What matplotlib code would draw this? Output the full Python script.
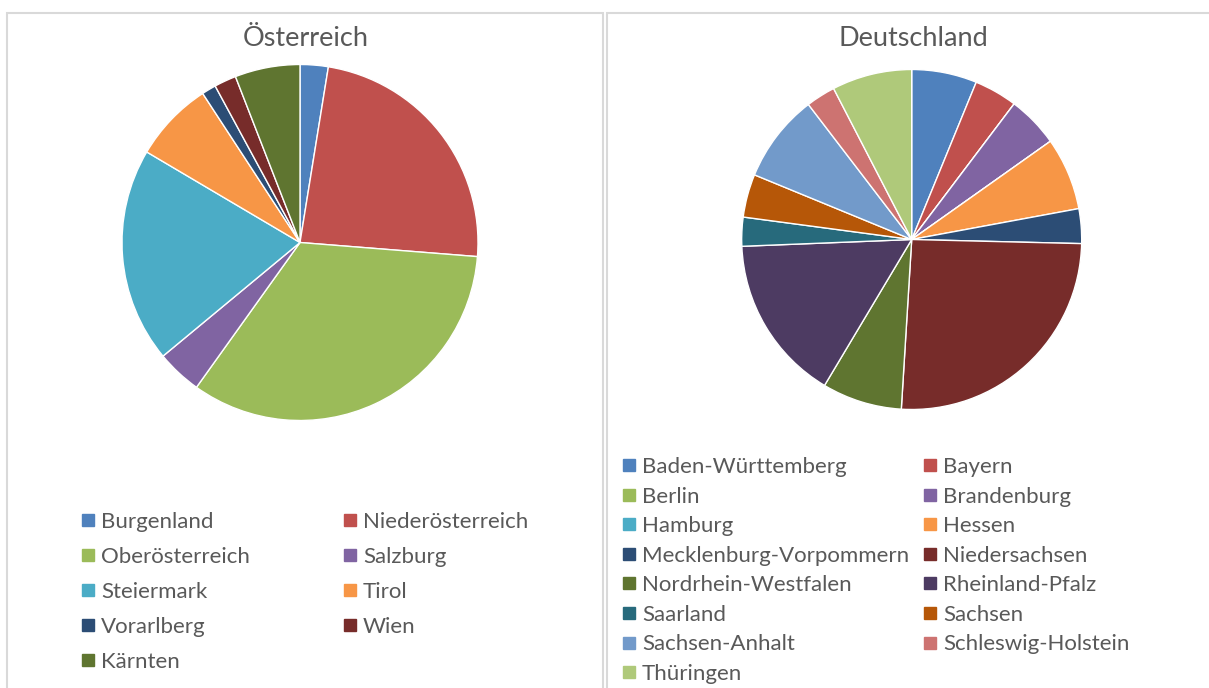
import matplotlib
matplotlib.use("Agg")
import matplotlib.pyplot as plt
from matplotlib.patches import Rectangle
from matplotlib.lines import Line2D

plt.rcParams['font.family'] = ['Lato', 'DejaVu Sans']

# ---- data ----
at_labels = ["Burgenland", "Niederösterreich", "Oberösterreich", "Salzburg",
             "Steiermark", "Tirol", "Vorarlberg", "Wien", "Kärnten"]
at_values = [2.55, 23.7, 33.6, 4.1, 19.5, 7.3, 1.3, 2.0, 5.9]
at_colors = ["#4F81BD", "#C0504D", "#9BBB59", "#8064A2", "#4BACC6",
             "#F79646", "#2C4D75", "#772C2A", "#5F7530"]

de_labels = ["Baden-Württemberg", "Bayern", "Berlin", "Brandenburg", "Hamburg",
             "Hessen", "Mecklenburg-Vorpommern", "Niedersachsen",
             "Nordrhein-Westfalen", "Rheinland-Pfalz", "Saarland", "Sachsen",
             "Sachsen-Anhalt", "Schleswig-Holstein", "Thüringen"]
de_values = [6.2, 4.1, 0.0, 4.9, 0.0, 6.9, 3.3, 25.6, 7.6, 15.8, 2.75, 4.1,
             8.4, 2.8, 7.6]
de_colors = ["#4F81BD", "#C0504D", "#9BBB59", "#8064A2", "#4BACC6", "#F79646",
             "#2C4D75", "#772C2A", "#5F7530", "#4D3B62", "#276A7C", "#B65708",
             "#729ACA", "#CD7371", "#AFC97A"]

W, H = 1209, 688
fig = plt.figure(figsize=(W / 100, H / 100), dpi=100)
fig.patch.set_facecolor("white")

TXT = "#595959"
GRID = "#D9D9D9"

# panel borders
fig.patches.append(Rectangle((6.5 / W, -0.1), (602.5 - 6.5) / W, 1.1 - 12.5 / H,
                             transform=fig.transFigure, fill=False,
                             edgecolor=GRID, linewidth=1.5, zorder=0))
fig.patches.append(Rectangle((606.5 / W, -0.1), (W + 10 - 606.5) / W, 1.1 - 12.5 / H,
                             transform=fig.transFigure, fill=False,
                             edgecolor=GRID, linewidth=1.5, zorder=0))


def add_pie(cx, cy, r, values, colors):
    ax = fig.add_axes([(cx - r) / W, 1 - (cy + r) / H, 2 * r / W, 2 * r / H])
    wedges, _ = ax.pie(values, colors=colors, startangle=90, counterclock=False,
                       radius=1.0,
                       wedgeprops=dict(edgecolor="white", linewidth=1.0))
    ax.set_xlim(-1, 1)
    ax.set_ylim(-1, 1)
    ax.set_aspect("equal")
    ax.axis("off")
    return wedges


at_w = add_pie(300, 242.5, 178, at_values, at_colors)
de_w = add_pie(911.7, 239.5, 170, de_values, de_colors)

fig.text(306 / W, 1 - 39 / H, "Österreich", ha="center", va="center",
         fontsize=19.5, color=TXT)
fig.text(913 / W, 1 - 39 / H, "Deutschland", ha="center", va="center",
         fontsize=19.5, color=TXT)

FS = 16


def add_column(labels, colors, x, y_top, spacing):
    handles = [Line2D([], [], marker="s", linestyle="none", markersize=8.5,
                      markerfacecolor=c, markeredgecolor=c) for c in colors]
    leg = fig.legend(handles, labels, loc="upper left",
                     bbox_to_anchor=(x / W, 1 - y_top / H),
                     frameon=False, fontsize=FS, labelcolor=TXT,
                     handlelength=0.54, handletextpad=0.32,
                     labelspacing=spacing, borderpad=0, borderaxespad=0)
    return leg


add_column(at_labels[0::2], at_colors[0::2], 82, 511.5, 0.68)
add_column(at_labels[1::2], at_colors[1::2], 344, 511.5, 0.68)
add_column(de_labels[0::2], de_colors[0::2], 623, 457, 0.43)
add_column(de_labels[1::2], de_colors[1::2], 924, 457, 0.43)

fig.savefig("out.png", dpi=100, facecolor="white")
